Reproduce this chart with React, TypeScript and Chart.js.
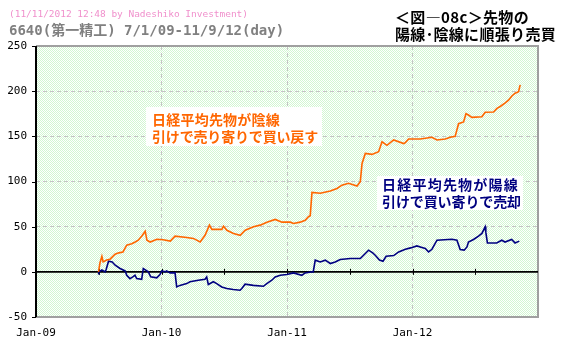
import React, { useEffect, useRef } from "react";
import { Chart, registerables } from "chart.js";

Chart.register(...registerables);

// ---- axis ticks ----
const xTickYears = [2009, 2010, 2011, 2012];
const xTickLabels = ["Jan-09", "Jan-10", "Jan-11", "Jan-12"];
const yTickValues = [-50, 0, 50, 100, 150, 200, 250];
const halfYearMarks = [2009.5, 2010, 2010.5, 2011, 2011.5, 2012, 2012.5];

// ---- texts ----
const titleLine1 = "(11/11/2012 12:48 by Nadeshiko Investment)";
const titleLine2 = "6640(第一精工) 7/1/09-11/9/12(day)";
const figTitle1 = "＜図―08c＞先物の";
const figTitle2 = "陽線･陰線に順張り売買";
const orangeNote = ["日経平均先物が陰線", "引けで売り寄りで買い戻す"];
const navyNote = ["日経平均先物が陽線", "引けで買い寄りで売却"];

// ---- series: sell on bearish candle (orange) ----
const bearishTime = [
  2009.498, 2009.51, 2009.525, 2009.535, 2009.563, 2009.59, 2009.63, 2009.66, 2009.693, 2009.723,
  2009.763, 2009.79, 2009.815, 2009.845, 2009.87, 2009.884, 2009.91, 2009.963, 2010.013, 2010.07,
  2010.108, 2010.201, 2010.254, 2010.308, 2010.347, 2010.382, 2010.401, 2010.481, 2010.494, 2010.521,
  2010.574, 2010.627, 2010.667, 2010.733, 2010.786, 2010.84, 2010.906, 2010.96, 2011.026, 2011.052,
  2011.105, 2011.145, 2011.171, 2011.185, 2011.199, 2011.265, 2011.345, 2011.398, 2011.438, 2011.49,
  2011.558, 2011.584, 2011.598, 2011.624, 2011.677, 2011.73, 2011.757, 2011.797, 2011.85, 2011.93,
  2011.943, 2011.969, 2012.062, 2012.155, 2012.195, 2012.261, 2012.301, 2012.34, 2012.367, 2012.407,
  2012.426, 2012.446, 2012.473, 2012.553, 2012.579, 2012.646, 2012.673, 2012.699, 2012.739, 2012.765,
  2012.792, 2012.818, 2012.845, 2012.858,
];
const bearishValue = [
  0, 10, 17, 11, 13, 14, 19.5, 21, 22, 29.5,
  31, 33, 35, 40, 45, 35, 33, 36, 35.5, 34,
  39.5, 38, 37, 33, 40.5, 51.7, 47, 47, 50.5, 46,
  42.5, 40.5, 46, 50, 51.7, 55, 58, 55, 55, 53.5,
  55, 57, 61, 62, 88, 87, 89.4, 92.3, 96, 98,
  95, 99.7, 120, 131, 130, 133, 144, 140, 146, 142,
  143, 147, 147, 149, 146, 147, 149, 150, 164, 166,
  175, 173.6, 171, 171.7, 176.6, 177, 181, 183, 187, 190,
  194.7, 197.7, 199.4, 207,
];

// ---- series: buy on bullish candle (navy) ----
const bullishTime = [
  2009.498, 2009.503, 2009.525, 2009.551, 2009.559, 2009.578, 2009.607, 2009.631, 2009.67, 2009.71,
  2009.723, 2009.749, 2009.771, 2009.789, 2009.802, 2009.842, 2009.855, 2009.895, 2009.914, 2009.962,
  2009.988, 2010.002, 2010.028, 2010.041, 2010.068, 2010.108, 2010.121, 2010.147, 2010.201, 2010.227,
  2010.293, 2010.347, 2010.36, 2010.373, 2010.413, 2010.44, 2010.48, 2010.52, 2010.572, 2010.626,
  2010.64, 2010.666, 2010.732, 2010.812, 2010.839, 2010.879, 2010.906, 2010.946, 2010.999, 2011.052,
  2011.118, 2011.145, 2011.199, 2011.209, 2011.225, 2011.265, 2011.305, 2011.345, 2011.384, 2011.424,
  2011.504, 2011.584, 2011.61, 2011.65, 2011.683, 2011.703, 2011.737, 2011.765, 2011.79, 2011.85,
  2011.89, 2011.943, 2011.985, 2012.035, 2012.075, 2012.102, 2012.128, 2012.155, 2012.195, 2012.314,
  2012.354, 2012.38, 2012.412, 2012.434, 2012.446, 2012.486, 2012.526, 2012.553, 2012.579, 2012.584,
  2012.597, 2012.671, 2012.711, 2012.737, 2012.79, 2012.817, 2012.851,
];
const bullishValue = [
  -3, 0, 2, 0, 2.5, 11.7, 11, 7.3, 3.7, 1,
  -3.8, -7.5, -5.6, -3.8, -7.5, -8.2, 3.7, 0, -5.6, -6.7,
  -3, 1, 0, 1, -1.2, -1.2, -16.7, -15, -13, -11,
  -9.3, -8.2, -5.6, -14, -11, -13, -16.7, -18.5, -19.6, -20.4,
  -18.5, -13.7, -15, -16, -13, -9.3, -5.6, -3.8, -3, -1.2,
  -3.8, -1.2, 0, 0, 12.9, 11, 12.9, 9.2, 11, 13.6,
  14.7, 14.7, 18.4, 24, 21, 18.4, 13, 11.7, 17.3, 18,
  22, 25, 26.5, 28.7, 27, 25.8, 22, 25, 35, 36,
  35, 24.7, 24, 27.6, 33, 35.8, 39.5, 42.5, 49.8, 44,
  32, 32, 35, 33, 35.8, 32, 34,
];

const ORANGE = "#ff6600";
const NAVY = "#000080";
const GRID = "#c4c4c4";

function fitText(ctx: CanvasRenderingContext2D, text: string, x: number, y: number, width: number) {
  const c: any = ctx;
  c.letterSpacing = "0px";
  const w = ctx.measureText(text).width;
  const n = Array.from(text).length;
  const ls = (width - w) / n;
  c.letterSpacing = ls.toFixed(2) + "px";
  ctx.fillText(text, x, y);
  c.letterSpacing = "0px";
}

export default function App() {
  const canvasRef = useRef<HTMLCanvasElement | null>(null);

  useEffect(() => {
    const canvas = canvasRef.current;
    if (!canvas) return;
    const ctx0 = canvas.getContext("2d")!;

    const pc = document.createElement("canvas");
    pc.width = 2;
    pc.height = 2;
    const pctx = pc.getContext("2d")!;
    pctx.fillStyle = "#ffffff";
    pctx.fillRect(0, 0, 2, 2);
    pctx.fillStyle = "#d2f7d2";
    pctx.fillRect(0, 0, 1, 1);
    pctx.fillRect(1, 1, 1, 1);
    const pattern = ctx0.createPattern(pc, "repeat");

    const decor = {
      id: "decor",
      beforeDraw(chart: any) {
        const { ctx, chartArea: a } = chart;
        ctx.save();
        ctx.fillStyle = "#ffffff";
        ctx.fillRect(0, 0, chart.width, chart.height);
        ctx.fillStyle = pattern as any;
        ctx.fillRect(a.left, a.top, a.right - a.left, a.bottom - a.top);
        ctx.restore();
      },
      beforeDatasetsDraw(chart: any) {
        const { ctx, chartArea: a, scales } = chart;
        const y0 = scales.y.getPixelForValue(0);
        ctx.save();
        // frame
        ctx.strokeStyle = "#a0a0a0";
        ctx.lineWidth = 2;
        ctx.beginPath();
        ctx.moveTo(a.left, a.top);
        ctx.lineTo(a.right, a.top);
        ctx.lineTo(a.right, a.bottom);
        ctx.lineTo(a.left, a.bottom);
        ctx.stroke();
        // zero line
        ctx.strokeStyle = "#000000";
        ctx.lineWidth = 1.6;
        ctx.beginPath();
        ctx.moveTo(a.left, y0);
        ctx.lineTo(a.right, y0);
        ctx.stroke();
        ctx.lineWidth = 1;
        halfYearMarks.forEach((t) => {
          const x = Math.round(scales.x.getPixelForValue(t)) + 0.5;
          ctx.beginPath();
          ctx.moveTo(x, y0 - 3);
          ctx.lineTo(x, y0 + 3);
          ctx.stroke();
        });
        // left axis
        ctx.lineWidth = 2;
        ctx.beginPath();
        ctx.moveTo(a.left, a.top);
        ctx.lineTo(a.left, a.bottom);
        ctx.stroke();
        ctx.lineWidth = 1;
        yTickValues.forEach((v) => {
          const y = Math.round(scales.y.getPixelForValue(v)) + 0.5;
          ctx.beginPath();
          ctx.moveTo(a.left - 4, y);
          ctx.lineTo(a.left, y);
          ctx.stroke();
        });
        ctx.restore();
      },
      afterDraw(chart: any) {
        const { ctx } = chart;
        ctx.save();
        ctx.textBaseline = "middle";
        ctx.textAlign = "left";
        // header
        ctx.fillStyle = "#f090cc";
        ctx.font = '9.5px "DejaVu Sans Mono", monospace';
        fitText(ctx, titleLine1, 9, 15, 239);
        ctx.fillStyle = "#808080";
        ctx.font = 'bold 14px "DejaVu Sans Mono", "Noto Sans CJK JP", monospace';
        fitText(ctx, titleLine2, 9, 31, 275);
        ctx.fillStyle = "#000000";
        ctx.font = 'bold 15px "Noto Sans CJK JP", sans-serif';
        fitText(ctx, figTitle1, 395, 17, 134);
        fitText(ctx, figTitle2, 395, 34, 161);
        // notes
        ctx.fillStyle = "#ffffff";
        ctx.fillRect(146, 107, 176, 39);
        ctx.fillRect(377, 176, 146, 34);
        ctx.font = 'bold 14px "Noto Sans CJK JP", sans-serif';
        ctx.fillStyle = ORANGE;
        fitText(ctx, orangeNote[0], 152, 120, 128);
        fitText(ctx, orangeNote[1], 152, 137, 166);
        ctx.fillStyle = NAVY;
        fitText(ctx, navyNote[0], 382, 185, 137);
        fitText(ctx, navyNote[1], 382, 202, 139);
        ctx.restore();
      },
    };

    const tickFont = { family: '"DejaVu Sans Mono", monospace', size: 11 };

    const chart = new Chart(canvas, {
      type: "line",
      data: {
        datasets: [
          {
            label: "bearish",
            data: bearishTime.map((t, i) => ({ x: t, y: bearishValue[i] })),
            borderColor: ORANGE,
            borderWidth: 1.6,
            pointRadius: 0,
            fill: false,
            tension: 0,
          },
          {
            label: "bullish",
            data: bullishTime.map((t, i) => ({ x: t, y: bullishValue[i] })),
            borderColor: NAVY,
            borderWidth: 1.6,
            pointRadius: 0,
            fill: false,
            tension: 0,
          },
        ],
      },
      options: {
        responsive: false,
        animation: false,
        events: [],
        layout: { padding: { top: 46, right: 28, left: 0, bottom: 0 } },
        plugins: { legend: { display: false }, tooltip: { enabled: false }, title: { display: false } },
        scales: {
          x: {
            type: "linear",
            min: 2009,
            max: 2013,
            afterBuildTicks: (s: any) => {
              s.ticks = [...xTickYears, 2013].map((v) => ({ value: v }));
            },
            afterFit: (s: any) => {
              s.height = 32;
            },
            grid: {
              color: (c: any) =>
                c.tick && c.tick.value > 2009 && c.tick.value < 2013 ? GRID : "rgba(0,0,0,0)",
              lineWidth: 1,
              drawTicks: false,
            },
            border: { display: false, dash: [4, 3] },
            ticks: {
              callback: (v: any) => {
                const i = xTickYears.indexOf(Number(v));
                return i >= 0 ? xTickLabels[i] : "";
              },
              font: tickFont,
              color: "#000000",
              padding: 10,
              maxRotation: 0,
              autoSkip: false,
            },
          },
          y: {
            min: -50,
            max: 250,
            afterBuildTicks: (s: any) => {
              s.ticks = yTickValues.map((v) => ({ value: v }));
            },
            afterFit: (s: any) => {
              s.width = 36;
            },
            grid: {
              color: (c: any) =>
                c.tick && c.tick.value > 0 && c.tick.value < 250 ? GRID : "rgba(0,0,0,0)",
              lineWidth: 1,
              drawTicks: false,
            },
            border: { display: false, dash: [4, 3] },
            ticks: { font: tickFont, color: "#000000", padding: 9 },
          },
        },
      },
      plugins: [decor],
    } as any);

    return () => chart.destroy();
  }, []);

  return (
    <div style={{ position: "absolute", left: 0, top: 0, width: 566, height: 349, background: "#fff" }}>
      <canvas ref={canvasRef} width={566} height={349} style={{ display: "block" }} />
    </div>
  );
}
